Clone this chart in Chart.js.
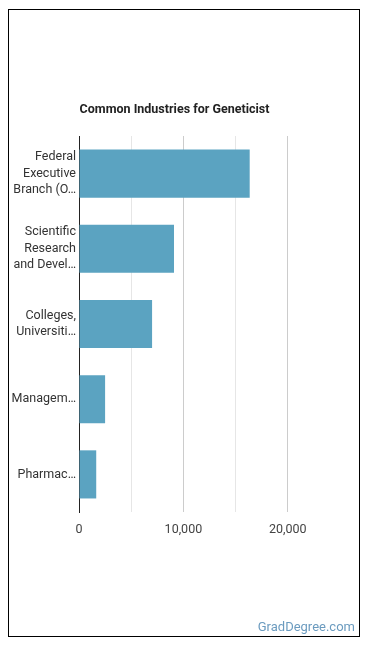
<!DOCTYPE html>
<html>
<head>
<meta charset="utf-8">
<script src="https://cdn.jsdelivr.net/npm/chart.js@4"></script>
<style>
    body { margin: 0; background: #fff; font-family: Roboto, sans-serif; }
    #frame { position: absolute; left: 8px; top: 9px; width: 350px; height: 626px; border: 1px solid #000; }
    #chart { position: absolute; left: 0; top: 0; }
    #brand { position: absolute; right: 4px; bottom: 2px; font-size: 13px; color: #6b9bbf; font-family: Roboto, sans-serif; }
</style>
</head>
<body>
<div id="frame">
    <canvas id="chart" width="350" height="626"></canvas>
    <div id="brand">GradDegree.com</div>
</div>
<script>
// 業種ラベル
const industries = [
    ['Federal', 'Executive', 'Branch (O\u2026'],
    ['Scientific', 'Research', 'and Devel\u2026'],
    ['Colleges,', 'Universiti\u2026'],
    'Managem\u2026',
    'Pharmac\u2026'
];
// 就業者数
const employment = [16350, 9100, 7000, 2500, 1650];
// 目盛
const tickStep = 5000;
const tickLast = 20000;
const axisMax = 25000;

const chartObj = {
    type: 'bar',
    data: {
        labels: industries,
        datasets: [{
            data: employment,
            backgroundColor: '#5ba3c1',
            borderWidth: 0,
            barPercentage: 0.8,
            categoryPercentage: 0.8
        }]
    },
    options: {
        indexAxis: 'y',
        responsive: false,
        animation: false,
        layout: { padding: { top: 92, right: 19, bottom: 89, left: 0 } },
        plugins: {
            legend: { display: false },
            tooltip: { enabled: false },
            title: {
                display: true,
                text: 'Common Industries for Geneticist',
                color: '#222',
                font: { family: 'Roboto', size: 12.5, weight: 'bold' },
                padding: { top: 0, bottom: 19 }
            }
        },
        scales: {
            x: {
                min: 0,
                max: axisMax,
                ticks: {
                    stepSize: tickStep,
                    color: '#444',
                    font: { family: 'Roboto', size: 12.5 },
                    padding: 10,
                    autoSkip: false,
                    maxRotation: 0,
                    callback: (v) => (v % 10000 === 0 && v <= tickLast) ? v.toLocaleString('en-US') : ''
                },
                grid: {
                    drawTicks: false,
                    color: (ctx) => {
                        const v = ctx.tick ? ctx.tick.value : 0;
                        if (v > tickLast) return 'rgba(0,0,0,0)';
                        return v % 10000 === 0 ? '#cccccc' : '#e6e6e6';
                    }
                },
                border: { display: false }
            },
            y: {
                afterFit: (scale) => { scale.width = 70; },
                ticks: {
                    color: '#333',
                    font: { family: 'Roboto', size: 12.5, lineHeight: 1.32 },
                    padding: 3
                },
                grid: { display: false, drawTicks: false },
                border: { display: true, color: '#222', width: 1 }
            }
        }
    }
};

new Chart(document.getElementById('chart'), chartObj);
</script>
</body>
</html>
